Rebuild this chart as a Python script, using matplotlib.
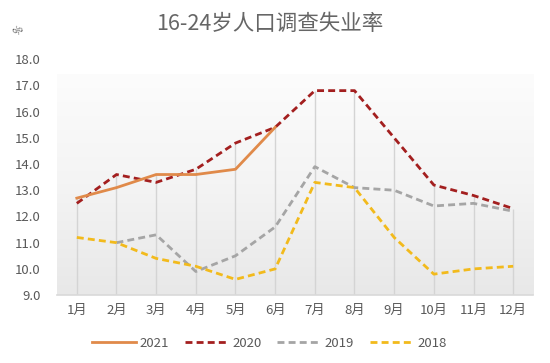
import numpy as np
import matplotlib.pyplot as plt
from matplotlib.colors import LinearSegmentedColormap

plt.rcParams['font.family'] = ['Noto Sans CJK SC', 'DejaVu Sans']

# data
months = ['1月', '2月', '3月', '4月', '5月', '6月', '7月', '8月', '9月', '10月', '11月', '12月']
y2021 = [12.7, 13.1, 13.6, 13.6, 13.8, 15.4]
y2020 = [12.5, 13.6, 13.3, 13.8, 14.8, 15.4, 16.8, 16.8, 15.0, 13.2, 12.8, 12.3]
y2019 = [np.nan, 11.0, 11.3, 9.9, 10.5, 11.6, 13.9, 13.1, 13.0, 12.4, 12.5, 12.2]
y2018 = [11.2, 11.0, 10.4, 10.1, 9.6, 10.0, 13.3, 13.1, 11.2, 9.8, 10.0, 10.1]

x = np.arange(1, len(months) + 1)
txt = '#595959'

fig = plt.figure(figsize=(5.5, 3.63), dpi=100)
ax = fig.add_axes([0.1036, 0.187, 0.8655, 0.65])

# gradient background of plot area (white at top, light grey at bottom)
bg = LinearSegmentedColormap.from_list('bg', ['#e8e8e8', '#f4f4f4', '#fcfcfc'])
grad = np.linspace(1, 0, 256).reshape(-1, 1)
ax.imshow(grad, extent=[0.5, 12.5, 9, 17.4], aspect='auto', cmap=bg,
          zorder=0, interpolation='bilinear')

# drop lines from highest point down to the axis
series = [y2021, y2020, y2019, y2018]
tops = []
for i in range(len(months)):
    vals = [s[i] for s in series if i < len(s) and not np.isnan(s[i])]
    tops.append(max(vals))
ax.vlines(x, 9, tops, color='#d4d4d4', lw=1, zorder=1)

dash = (0, (2.5, 1.5))
ax.plot(x[:len(y2021)], y2021, color='#E08A4A', lw=2, label='2021', zorder=5)
ax.plot(x, y2020, color='#A31F1F', lw=2, ls=dash, label='2020', zorder=4)
ax.plot(x, y2019, color='#A5A5A5', lw=2, ls=dash, label='2019', zorder=2)
ax.plot(x, y2018, color='#F2BA1C', lw=2, ls=dash, label='2018', zorder=3)

ax.set_xlim(0.5, 12.5)
ax.set_ylim(9, 18)
yt = np.arange(9, 18.5, 1)
ax.set_yticks(yt)
ax.set_yticklabels([f'{v:.1f}' for v in yt])
ax.set_xticks(x)
ax.set_xticklabels(months)
ax.tick_params(axis='both', length=0, labelsize=9.5, colors=txt)
ax.tick_params(axis='x', pad=6)
ax.tick_params(axis='y', pad=12)
for s in ['top', 'right', 'left']:
    ax.spines[s].set_visible(False)
ax.spines['bottom'].set_color('#d9d9d9')
ax.spines['bottom'].set_linewidth(1.2)

fig.text(0.49, 0.933, '16-24岁人口调查失业率', ha='center', va='center',
         fontsize=15.5, color='#666666')
fig.text(0.033, 0.915, '%', ha='center', va='center', fontsize=7,
         color=txt, rotation=45)

fig.legend(loc='center', bbox_to_anchor=(0.49, 0.055), ncol=4, frameon=False,
           fontsize=9.5, labelcolor=txt, handlelength=3.3, columnspacing=1.2,
           handletextpad=0.3)

fig.savefig('out.png', dpi=100)
